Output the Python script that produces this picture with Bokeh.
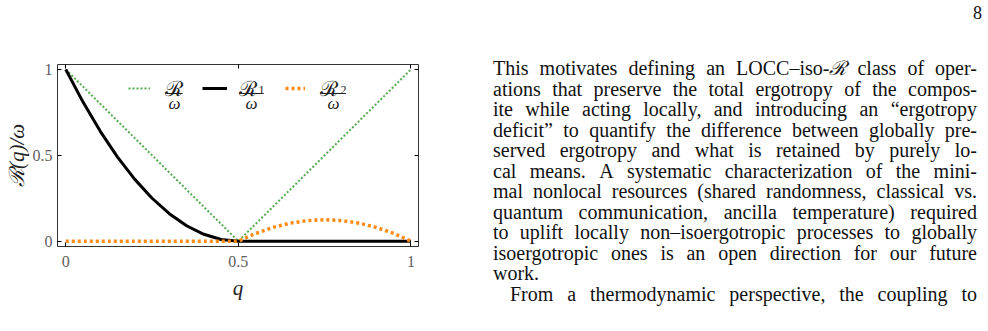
from bokeh.plotting import figure
from bokeh.models import (Range1d, FixedTicker, LinearAxis, Legend, LegendItem,
                          Label, BoxAnnotation, Div)
from bokeh.layouts import row
from bokeh.embed import file_html
from bokeh.resources import INLINE

# ---------------- data ----------------
q = [0.0, 0.05, 0.10, 0.15, 0.20, 0.25, 0.30, 0.35, 0.40, 0.45, 0.50,
     0.55, 0.60, 0.65, 0.70, 0.75, 0.80, 0.85, 0.90, 0.95, 1.0]
R_total = [1.0, 0.9, 0.8, 0.7, 0.6, 0.5, 0.4, 0.3, 0.2, 0.1, 0.0,
           0.1, 0.2, 0.3, 0.4, 0.5, 0.6, 0.7, 0.8, 0.9, 1.0]
R_1 = [1.0, 0.81, 0.64, 0.49, 0.36, 0.25, 0.16, 0.09, 0.04, 0.01, 0.0,
       0.0, 0.0, 0.0, 0.0, 0.0, 0.0, 0.0, 0.0, 0.0, 0.0]
R_2 = [0.0, 0.0, 0.0, 0.0, 0.0, 0.0, 0.0, 0.0, 0.0, 0.0, 0.0,
       0.045, 0.08, 0.105, 0.12, 0.125, 0.12, 0.105, 0.08, 0.045, 0.0]

x_ticks = [0, 0.5, 1]
x_tick_labels = ["0", "0.5", "1"]
y_ticks = [0, 0.5, 1]
y_tick_labels = ["0", "0.5", "1"]

x_label = "q"
y_label = "ℛ(q)/ω"
legend_numerators = ["ℛ", "ℛ", "ℛ"]
legend_subscripts = ["", "1", "2"]
legend_denominator = "ω"

page_number = "8"
text_lines = [
    "This motivates defining an LOCC–iso-<i>ℛ</i> class of oper-",
    "ations that preserve the total ergotropy of the compos-",
    "ite while acting locally, and introducing an “ergotropy",
    "deficit” to quantify the difference between globally pre-",
    "served ergotropy and what is retained by purely lo-",
    "cal means. A systematic characterization of the mini-",
    "mal nonlocal resources (shared randomness, classical vs.",
    "quantum communication, ancilla temperature) required",
    "to uplift locally non–isoergotropic processes to globally",
    "isoergotropic ones is an open direction for our future",
    "work.",
    "From a thermodynamic perspective, the coupling to",
]

# ---------------- figure geometry ----------------
FIG_W, FIG_H = 470, 331
BL, BR, BT, BB = 57, 52, 64, 85
X0, X1 = -0.024, 1.022
Y0, Y1 = -0.031, 1.029
FW = FIG_W - BL - BR
FH = FIG_H - BT - BB

def dx(px):
    return X0 + (px - BL) / FW * (X1 - X0)

def dy(py):
    return Y1 - (py - BT) / FH * (Y1 - Y0)

GREEN = "#55aa4e"
ORANGE = "#ff8a14"
SERIF = "Liberation Serif"
INK = "#222222"

p = figure(width=FIG_W, height=FIG_H, output_backend="svg", toolbar_location=None,
           x_range=Range1d(X0, X1), y_range=Range1d(Y0, Y1),
           min_border_left=BL, min_border_right=BR,
           min_border_top=BT, min_border_bottom=BB,
           background_fill_color="white", border_fill_color="white")
p.xgrid.grid_line_color = None
p.ygrid.grid_line_color = None
p.outline_line_color = "#333333"
p.outline_line_width = 1

def style_axis(ax, ticks, labels, show_labels=True):
    ax.ticker = FixedTicker(ticks=ticks)
    ax.major_label_overrides = {t: l for t, l in zip(ticks, labels)}
    ax.axis_line_color = None
    ax.major_tick_in = 4
    ax.major_tick_out = 0
    ax.major_tick_line_color = "black"
    ax.minor_tick_line_color = None
    ax.major_label_text_font = SERIF
    ax.major_label_text_font_size = "16px"
    ax.major_label_text_color = "#5e5e5e" if show_labels else None
    ax.axis_label_text_font = SERIF
    ax.axis_label_text_font_size = "21px"
    ax.axis_label_text_font_style = "italic"
    ax.axis_label_text_color = INK

xa = p.xaxis[0]
ya = p.yaxis[0]
style_axis(xa, x_ticks, x_tick_labels)
style_axis(ya, y_ticks, y_tick_labels)
xa.axis_label = x_label
ya.axis_label = y_label
xa.major_label_standoff = 9
xa.axis_label_standoff = 6
ya.major_label_standoff = 5
ya.axis_label_standoff = 1

top_ax = LinearAxis()
right_ax = LinearAxis()
style_axis(top_ax, x_ticks, x_tick_labels, show_labels=False)
style_axis(right_ax, y_ticks, y_tick_labels, show_labels=False)
p.add_layout(top_ax, "above")
p.add_layout(right_ax, "right")

r_tot = p.line(q, R_total, line_color=GREEN, line_width=2, line_dash="2 2")
r_1 = p.line(q, R_1, line_color="black", line_width=3)
r_2 = p.line(q, R_2, line_color=ORANGE, line_width=3.5, line_dash="3 3")

# ---------------- legend: sample + numerator (legend label) ----------------
# (renderer, sample left px, sample width px, standoff px)
legend_specs = [(r_tot, 128, 22, 15), (r_1, 202, 25, 12), (r_2, 285, 20, 15)]
sample_y = 92
for (rend, px_left, gw, so), num in zip(legend_specs, legend_numerators):
    leg = Legend(items=[LegendItem(label=num, renderers=[rend])],
                 location=(px_left - BL, (BT + FH) - (sample_y + 10)),
                 orientation="horizontal", glyph_width=gw, glyph_height=20,
                 label_standoff=so, label_height=20,
                 label_text_font=SERIF, label_text_font_size="21px",
                 label_text_baseline="bottom", label_text_color=INK,
                 padding=0, margin=0, spacing=0,
                 border_line_color=None, background_fill_alpha=0)
    p.add_layout(leg, "center")

# subscripts, fraction bars, denominators
bar_specs = [(166, 182), (239, 263), (321, 345)]
sub_x = [0, 261, 343]
for sub, sx, (bx0, bx1) in zip(legend_subscripts, sub_x, bar_specs):
    cx = (bx0 + bx1) / 2
    if sub:
        p.add_layout(Label(x=dx(sx), y=dy(89), text=sub, text_align="center",
                           text_baseline="middle", text_font=SERIF,
                           text_font_size="12px", text_color=INK))
    p.add_layout(Label(x=dx(cx), y=dy(103), text=legend_denominator,
                       text_align="center", text_baseline="middle",
                       text_font=SERIF, text_font_style="italic",
                       text_font_size="17px", text_color=INK))
    p.add_layout(BoxAnnotation(left=dx(bx0), right=dx(bx1),
                               bottom=dy(93.6), top=dy(92.6),
                               fill_color=INK, fill_alpha=1,
                               line_color=None))

# ---------------- text column (each line spread to full width) ----------------
line_divs = []
for i, ln in enumerate(text_lines):
    words = ln.split(" ")
    spans = "".join(f"<span>{w}</span>" for w in words)
    if ln == "work.":
        line_divs.append(f'<div style="white-space:nowrap">{ln}</div>')
    else:
        pad = "padding-left:17px;" if i == len(text_lines) - 1 else ""
        line_divs.append('<div style="display:flex;justify-content:space-between;'
                         f'white-space:nowrap;{pad}">{spans}</div>')

html = (
    '<div style="position:relative;width:518px;height:331px;'
    f"font-family:'{SERIF}',serif;font-size:20px;color:#111;\">"
    f'<div style="position:absolute;left:503px;top:3px;font-size:18px;line-height:20px">{page_number}</div>'
    '<div style="position:absolute;left:23px;top:58px;width:484px;line-height:20.5px">'
    + "".join(line_divs) +
    '</div></div>'
)
div = Div(text=html, width=518, height=331, margin=0)
p.margin = 0

layout = row(p, div, spacing=0)
open("out.html", "w").write(file_html(layout, INLINE))
